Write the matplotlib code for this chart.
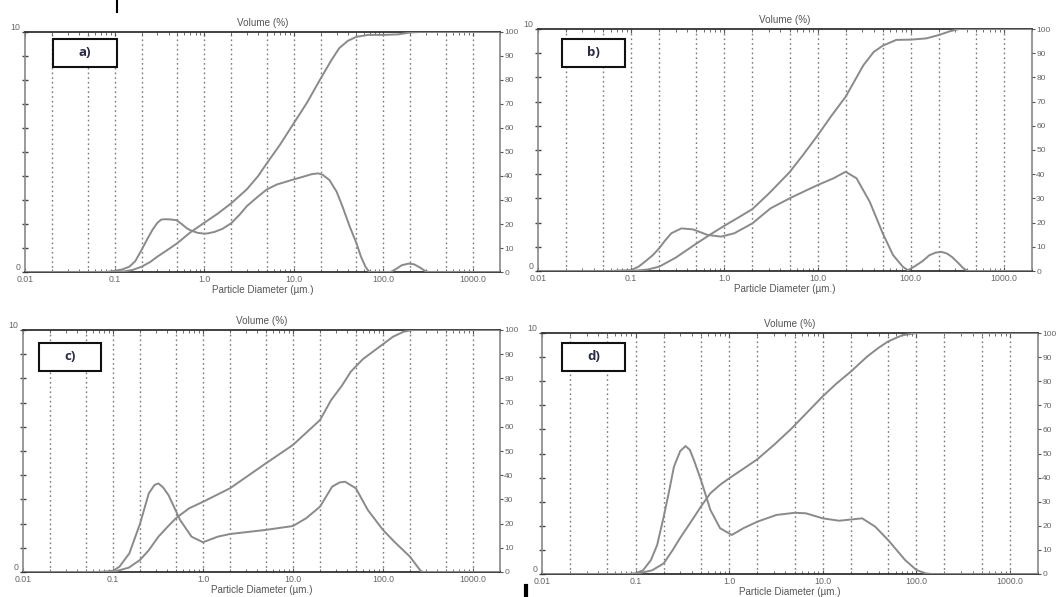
import matplotlib
matplotlib.use("Agg")
import matplotlib.pyplot as plt
from matplotlib.patches import Rectangle
from matplotlib.lines import Line2D
from matplotlib.ticker import FixedLocator, LogLocator, NullFormatter, FixedFormatter

plt.rcParams['font.family'] = ['Liberation Sans', 'DejaVu Sans']

# ---------------- data ----------------
panel_labels = ["a)", "b)", "c)", "d)"]
grid_diams = [0.02, 0.05, 0.1, 0.2, 0.5, 1, 2, 5, 10, 20, 50, 100, 200, 500, 1000]
xtick_vals = [0.01, 0.1, 1, 10, 100, 1000]
xtick_labels = ["0.01", "0.1", "1.0", "10.0", "100.0", "1000.0"]

# panel a : frequency (left axis, 0-10) and cumulative (right axis, 0-100)
a_freq_d = [0.01, 0.08, 0.1, 0.12, 0.146, 0.17, 0.2, 0.23, 0.264, 0.3, 0.33, 0.36, 0.42, 0.49, 0.56,
            0.64, 0.72, 0.85, 1.0, 1.1, 1.3, 1.6, 2.0, 2.5, 3.0, 4.0, 5.0, 6.5, 8, 10, 13, 16, 18.7,
            21, 25, 30, 35, 42, 50, 56, 63, 68, 72, 120, 135, 160, 190, 220, 260, 290, 320, 2000]
a_freq_v = [0, 0, 0.05, 0.1, 0.22, 0.45, 0.92, 1.35, 1.75, 2.05, 2.18, 2.2, 2.19, 2.16, 2.0,
            1.82, 1.72, 1.63, 1.6, 1.61, 1.67, 1.8, 2.03, 2.4, 2.75, 3.15, 3.44, 3.65, 3.75, 3.86, 3.98, 4.08, 4.11,
            4.05, 3.83, 3.35, 2.72, 1.9, 1.2, 0.65, 0.22, 0.05, 0, 0, 0.1, 0.28, 0.35, 0.32, 0.17, 0.05, 0, 0]
a_cum_d = [0.01, 0.1, 0.13, 0.16, 0.2, 0.25, 0.3, 0.4, 0.5, 0.7, 1.0, 1.4, 2.0, 3.0, 4, 5, 7, 10, 14, 20,
           26, 32, 40, 50, 68, 100, 145, 200, 260, 2000]
a_cum_v = [0, 0, 0.3, 0.9, 2.2, 4.2, 6.4, 9.5, 12, 16.5, 20.5, 24.2, 28.6, 34.5, 40, 45.3, 53, 62, 70.5, 80.7,
           88, 93.2, 96.3, 98, 98.8, 98.8, 99, 99.8, 100, 100]

# panel b
b_freq_d = [0.01, 0.06, 0.1, 0.12, 0.141, 0.17, 0.2, 0.23, 0.27, 0.345, 0.46, 0.66, 0.92, 1.28, 2, 3.13, 5,
            7, 10, 14.8, 20, 26.2, 36.3, 50, 64.5, 82, 93, 111, 135, 158, 185, 214, 245, 277, 320, 369, 414, 2000]
b_freq_v = [0, 0, 0.04, 0.18, 0.39, 0.65, 0.94, 1.25, 1.56, 1.76, 1.72, 1.49, 1.42, 1.56, 1.97, 2.59, 3.0,
            3.27, 3.55, 3.83, 4.1, 3.83, 2.86, 1.56, 0.66, 0.18, 0.03, 0.2, 0.42, 0.65, 0.76, 0.79, 0.72, 0.58, 0.35, 0.1, 0, 0]
b_cum_d = [0.01, 0.1, 0.15, 0.2, 0.3, 0.5, 0.7, 1, 1.4, 2, 3, 5, 7, 10, 14, 20, 31, 40, 50, 70, 100, 146,
           200, 260, 330, 2000]
b_cum_v = [0, 0, 0.6, 1.8, 5.5, 11.3, 15, 18.7, 22, 25.6, 32, 40.8, 48, 56, 64, 72, 85, 90.5, 93.1, 95.5,
           95.6, 96.1, 97.5, 99, 100, 100]

# panel c
c_freq_d = [0.01, 0.07, 0.1, 0.118, 0.152, 0.2, 0.25, 0.29, 0.32, 0.36, 0.415, 0.557, 0.746, 1.0, 1.46, 2, 5,
            10, 14, 20, 27.3, 33, 38, 50, 68, 100, 134, 200, 262, 280, 2000]
c_freq_v = [0, 0, 0.05, 0.22, 0.77, 2.0, 3.25, 3.6, 3.66, 3.5, 3.17, 2.15, 1.46, 1.23, 1.46, 1.57, 1.74,
            1.9, 2.22, 2.7, 3.53, 3.7, 3.73, 3.46, 2.56, 1.74, 1.25, 0.63, 0.05, 0, 0]
c_cum_d = [0.01, 0.1, 0.15, 0.2, 0.25, 0.32, 0.4, 0.5, 0.7, 1, 2, 5, 10, 20, 26.5, 35, 44, 60, 86.7, 129,
           170, 214, 2000]
c_cum_v = [0, 0, 1.8, 5, 9, 14.6, 18.5, 22.2, 26.3, 29, 34.6, 44.9, 52.5, 62.8, 71, 77, 82.8, 88, 92.4, 97.2,
           99.3, 100, 100]

# panel d
d_freq_d = [0.01, 0.08, 0.1, 0.12, 0.146, 0.17, 0.2, 0.23, 0.257, 0.3, 0.342, 0.38, 0.42, 0.5, 0.63, 0.8,
            1.07, 1.42, 2, 3.2, 5, 6.6, 10, 15, 26.4, 36.5, 50, 76, 100, 125, 145, 2000]
d_freq_v = [0, 0, 0.03, 0.15, 0.58, 1.2, 2.38, 3.5, 4.45, 5.1, 5.31, 5.15, 4.73, 3.9, 2.66, 1.9,
            1.62, 1.9, 2.17, 2.45, 2.54, 2.52, 2.31, 2.21, 2.31, 1.96, 1.41, 0.58, 0.17, 0.03, 0, 0]
d_cum_d = [0.01, 0.1, 0.15, 0.2, 0.25, 0.3, 0.342, 0.42, 0.5, 0.63, 0.8, 1, 1.4, 2, 3, 4.6, 7, 10, 14, 20,
           30, 40, 50, 70, 100, 2000]
d_cum_v = [0, 0, 1.5, 4.4, 10, 15, 18.3, 23.5, 28, 33.5, 37, 39.7, 43.5, 47.6, 53.5, 60.2, 67.5, 73.7, 79, 84,
           90.3, 94, 96.5, 99, 100, 100]

freq_d = [a_freq_d, b_freq_d, c_freq_d, d_freq_d]
freq_v = [a_freq_v, b_freq_v, c_freq_v, d_freq_v]
cum_d = [a_cum_d, b_cum_d, c_cum_d, d_cum_d]
cum_v = [a_cum_v, b_cum_v, c_cum_v, d_cum_v]

# ---------------- layout ----------------
W, H = 1056, 597
fig = plt.figure(figsize=(W / 100, H / 100), dpi=100)
fig.patch.set_facecolor("white")

# (left, right, top, bottom) in pixels
rects = [(25, 500, 32, 272), (538, 1032, 29, 271), (23, 500, 330, 572), (542, 1038, 333, 574)]
boxes = [(53, 117, 39, 67), (562, 625, 39, 67), (39, 101, 343, 371), (562, 625, 343, 371)]

line_col = "#8a8a8a"
tick_col = "#666666"
fs = 6.3

for i, (l, r, t, b) in enumerate(rects):
    ax = fig.add_axes([l / W, 1 - b / H, (r - l) / W, (b - t) / H])
    ax.set_xscale("log")
    ax.set_xlim(0.01, 2000)
    ax.set_ylim(0, 10)
    for g in grid_diams:
        ax.axvline(g, color="#7a7a7a", lw=1.0, ls=(0, (1.2, 2.2)), zorder=1)
    ax.plot(freq_d[i], freq_v[i], color=line_col, lw=1.4, zorder=3,
            solid_joinstyle="round", solid_capstyle="round")

    ax.xaxis.set_major_locator(FixedLocator(xtick_vals))
    ax.xaxis.set_major_formatter(FixedFormatter(xtick_labels))
    ax.xaxis.set_minor_locator(LogLocator(base=10, subs=[2, 3, 4, 5, 6, 7, 8, 9], numticks=20))
    ax.xaxis.set_minor_formatter(NullFormatter())
    ax.tick_params(axis="x", which="both", direction="in", top=True, bottom=True,
                   labelsize=fs, labelcolor=tick_col, colors="#555555", pad=2)
    ax.tick_params(axis="x", which="major", length=3)
    ax.tick_params(axis="x", which="minor", length=2)
    ax.yaxis.set_major_locator(FixedLocator(list(range(0, 11))))
    ax.set_yticklabels(["0"] + [""] * 9 + ["10"])
    ax.tick_params(axis="y", which="major", direction="inout", length=5, width=1,
                   labelsize=fs, labelcolor=tick_col, colors="#444444", pad=1)
    ylabs = ax.get_yticklabels()
    ylabs[0].set_va("bottom")
    ylabs[-1].set_va("bottom")
    for sp in ["top", "bottom"]:
        ax.spines[sp].set_color("#333333")
        ax.spines[sp].set_linewidth(1.3)
    ax.spines["left"].set_color("#888888")
    ax.spines["right"].set_color("#888888")
    ax.spines["left"].set_linewidth(1.2)
    ax.spines["right"].set_linewidth(1.2)

    ax.set_xlabel("Particle Diameter (\u00b5m.)", fontsize=fs + 0.8, color="#555555", labelpad=1)
    ax.set_title("Volume (%)", fontsize=fs + 0.8, color="#555555", pad=4)

    ax2 = ax.twinx()
    ax2.set_ylim(0, 100)
    ax2.plot(cum_d[i], cum_v[i], color=line_col, lw=1.4, zorder=3,
             solid_joinstyle="round", solid_capstyle="round")
    ax2.yaxis.set_major_locator(FixedLocator(list(range(0, 101, 10))))
    ax2.tick_params(axis="y", direction="out", length=2.5, width=0.8,
                    labelsize=fs - 0.3, labelcolor=tick_col, colors="#555555", pad=0.5)
    for sp in ax2.spines.values():
        sp.set_visible(False)

    bl, br, bt, bb = boxes[i]
    fig.add_artist(Rectangle((bl / W, 1 - bb / H), (br - bl) / W, (bb - bt) / H,
                             transform=fig.transFigure, facecolor="white",
                             edgecolor="#111111", lw=1.5, zorder=10))
    fig.text((bl + br) / 2 / W, 1 - (bt + bb) / 2 / H, panel_labels[i], ha="center", va="center",
             fontsize=9.5, fontweight="bold", color="#2a2a44", zorder=11,
             family=["Open Sans", "DejaVu Sans"])

# small stray marks present in the reference image
fig.add_artist(Line2D([117 / W, 117 / W], [1.0, 1 - 12 / H], transform=fig.transFigure,
                      color="black", lw=1.5))
fig.add_artist(Line2D([526 / W, 526 / W], [1 - 586 / H, 0.0], transform=fig.transFigure,
                      color="black", lw=3))

fig.savefig("out.png", dpi=100, facecolor="white")
